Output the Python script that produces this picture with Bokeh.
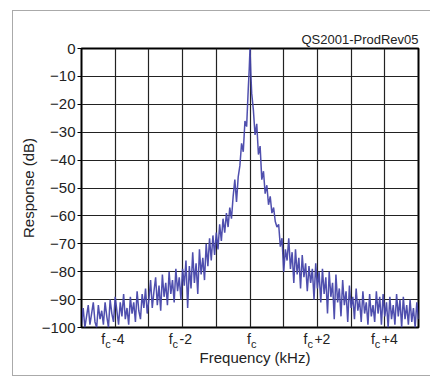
from bokeh.plotting import figure
from bokeh.models import (Range1d, SingleIntervalTicker, FixedTicker, Label,
                          LinearAxis, Title, InlineStyleSheet)
from bokeh.embed import file_html
from bokeh.resources import INLINE

# ---- data ----
freq_left = [round(-5 + 0.05 * i, 3) for i in range(100)]
freq_center = [-0.025, 0.0, 0.025]
freq_right = [round(0.05 * (i + 1), 3) for i in range(100)]
freq = freq_left + freq_center + freq_right

resp_left = [
    -99, -93, -100, -96, -92, -99, -95, -91, -98, -100,
    -92, -97, -94, -99, -91, -96, -100, -90, -95, -98,
    -89, -94, -99, -91, -96, -88, -97, -93, -99, -89,
    -95, -91, -98, -87, -94, -97, -88, -93, -86, -95,
    -90, -83, -93, -87, -82, -92, -85, -94, -81, -89,
    -84, -92, -80, -88, -83, -91, -79, -87, -82, -90,
    -79, -85, -76, -93, -78, -86, -73, -84, -77, -88,
    -72, -81, -75, -83, -70, -78, -68, -76, -67, -74,
    -66, -72, -63, -69, -61, -66, -59, -64, -57, -61,
    -53, -47, -55, -46, -42, -34, -37, -26, -28, -14,
]
resp_center = [-8, 0, -9]
resp_right = [
    -16, -22, -31, -27, -38, -35, -47, -44, -52, -49,
    -56, -53, -59, -57, -62, -64, -63, -71, -68, -80,
    -72, -76, -68, -79, -73, -84, -72, -81, -75, -86,
    -74, -82, -77, -87, -78, -84, -79, -90, -77, -86,
    -80, -91, -79, -88, -82, -95, -80, -89, -84, -97,
    -81, -91, -86, -96, -83, -92, -87, -98, -85, -93,
    -89, -97, -86, -94, -90, -98, -87, -95, -91, -99,
    -88, -96, -92, -98, -87, -95, -89, -99, -88, -96,
    -91, -100, -89, -97, -92, -99, -88, -96, -90, -100,
    -89, -97, -92, -99, -90, -98, -93, -100, -91, -97,
]
resp = resp_left + resp_center + resp_right

y_ticks = [0, -10, -20, -30, -40, -50, -60, -70, -80, -90, -100]
y_tick_labels = ["0", "\u221210", "\u221220", "\u221230", "\u221240", "\u221250",
                 "\u221260", "\u221270", "\u221280", "\u221290", "\u2212100"]
x_ticks = [-4, -2, 0, 2, 4]
x_tick_main = ["f", "f", "f", "f", "f"]
x_tick_sub = ["c", "c", "c", "c", "c"]
x_tick_suffix = ["-4", "-2", "", "+2", "+4"]

title_text = "QS2001-ProdRev05"
x_title = "Frequency (kHz)"
y_title = "Response (dB)"

FONT = "Liberation Sans"
TXT = "#222222"
X0, X1 = -5, 5
PX_PER_UNIT = (430 - 81 - 12) / (X1 - X0)

frame_css = InlineStyleSheet(css="""
:host::after {
  content: "";
  position: absolute;
  left: 12px; top: 10px;
  width: 480px; height: 364px;
  border: 1.5px solid #aaaaaa;
  border-right: none;
  pointer-events: none;
}
""")

p = figure(width=430, height=378, output_backend="svg", toolbar_location=None,
           x_range=Range1d(X0, X1), y_range=Range1d(-100, 0),
           min_border_left=81, min_border_right=12,
           min_border_top=48, min_border_bottom=51,
           stylesheets=[frame_css])
p.background_fill_color = "white"
p.border_fill_color = "white"
p.outline_line_color = "black"
p.outline_line_width = 2

p.title = Title(text=title_text, align="right", text_font=FONT,
                text_font_size="13px", text_font_style="normal",
                text_color=TXT, standoff=4, offset=0)

# grids
p.xgrid.ticker = SingleIntervalTicker(interval=1, num_minor_ticks=0)
p.ygrid.ticker = FixedTicker(ticks=y_ticks)
for g in (p.xgrid, p.ygrid):
    g.grid_line_color = "#222222"
    g.grid_line_width = 1.2
    g.grid_line_alpha = 1

# y axis
ya = p.yaxis[0]
ya.ticker = FixedTicker(ticks=y_ticks)
ya.major_label_overrides = dict(zip(y_ticks, y_tick_labels))
ya.major_label_text_font = FONT
ya.major_label_text_font_size = "15px"
ya.major_label_text_color = TXT
ya.major_tick_out = 4
ya.major_tick_in = 0
ya.major_label_standoff = 2
ya.minor_tick_line_color = None
ya.axis_line_color = "black"
ya.major_tick_line_color = "black"
ya.axis_label = y_title
ya.axis_label_text_font = FONT
ya.axis_label_text_font_size = "15px"
ya.axis_label_text_font_style = "normal"
ya.axis_label_text_color = TXT
ya.axis_label_standoff = 2

# x tick labels "f" + subscript "c" + suffix, built from two axes
CW = {"-": 0.333, "+": 0.584}
def text_w(s, size):
    return sum(CW.get(ch, 0.556) for ch in s) * size

main_pos, main_lab, sub_pos, sub_lab = [], {}, [], {}
for xt, m, c, s in zip(x_ticks, x_tick_main, x_tick_sub, x_tick_suffix):
    om = -10 if s else 1                      # px: left edge of the subscript
    fx = xt + (om - 0.278 * 14 / 2) / PX_PER_UNIT
    cx = xt + (om + 0.5 * 11 / 2) / PX_PER_UNIT
    main_pos.append(fx); main_lab[fx] = m
    sub_pos.append(cx); sub_lab[cx] = c
    if s:
        sx = xt + (om + 7 + text_w(s, 14) / 2) / PX_PER_UNIT
        main_pos.append(sx); main_lab[sx] = s

def style_x(ax, size):
    ax.major_label_text_font = FONT
    ax.major_label_text_font_size = size
    ax.major_label_text_color = TXT
    ax.axis_line_color = None
    ax.major_tick_line_color = None
    ax.minor_tick_line_color = None
    ax.major_tick_out = 0
    ax.major_tick_in = 0
    ax.minor_tick_out = 0
    ax.minor_tick_in = 0

xa = p.xaxis[0]
xa.ticker = FixedTicker(ticks=main_pos)
xa.major_label_overrides = main_lab
style_x(xa, "14px")
xa.major_label_standoff = 3

xs = LinearAxis(ticker=FixedTicker(ticks=sub_pos), major_label_overrides=sub_lab)
style_x(xs, "11px")
xs.major_label_standoff = -12
p.add_layout(xs, "below")

# trace
p.line(freq, resp, line_color="#4646aa", line_width=1.5, line_alpha=0.95)

# x axis title
p.add_layout(Label(x=0, y=-110.75, x_offset=5, text=x_title, text_align="center",
                   text_baseline="middle", text_font=FONT, text_font_size="15px",
                   text_color=TXT), "below")

open("out.html", "w").write(file_html(p, INLINE))
